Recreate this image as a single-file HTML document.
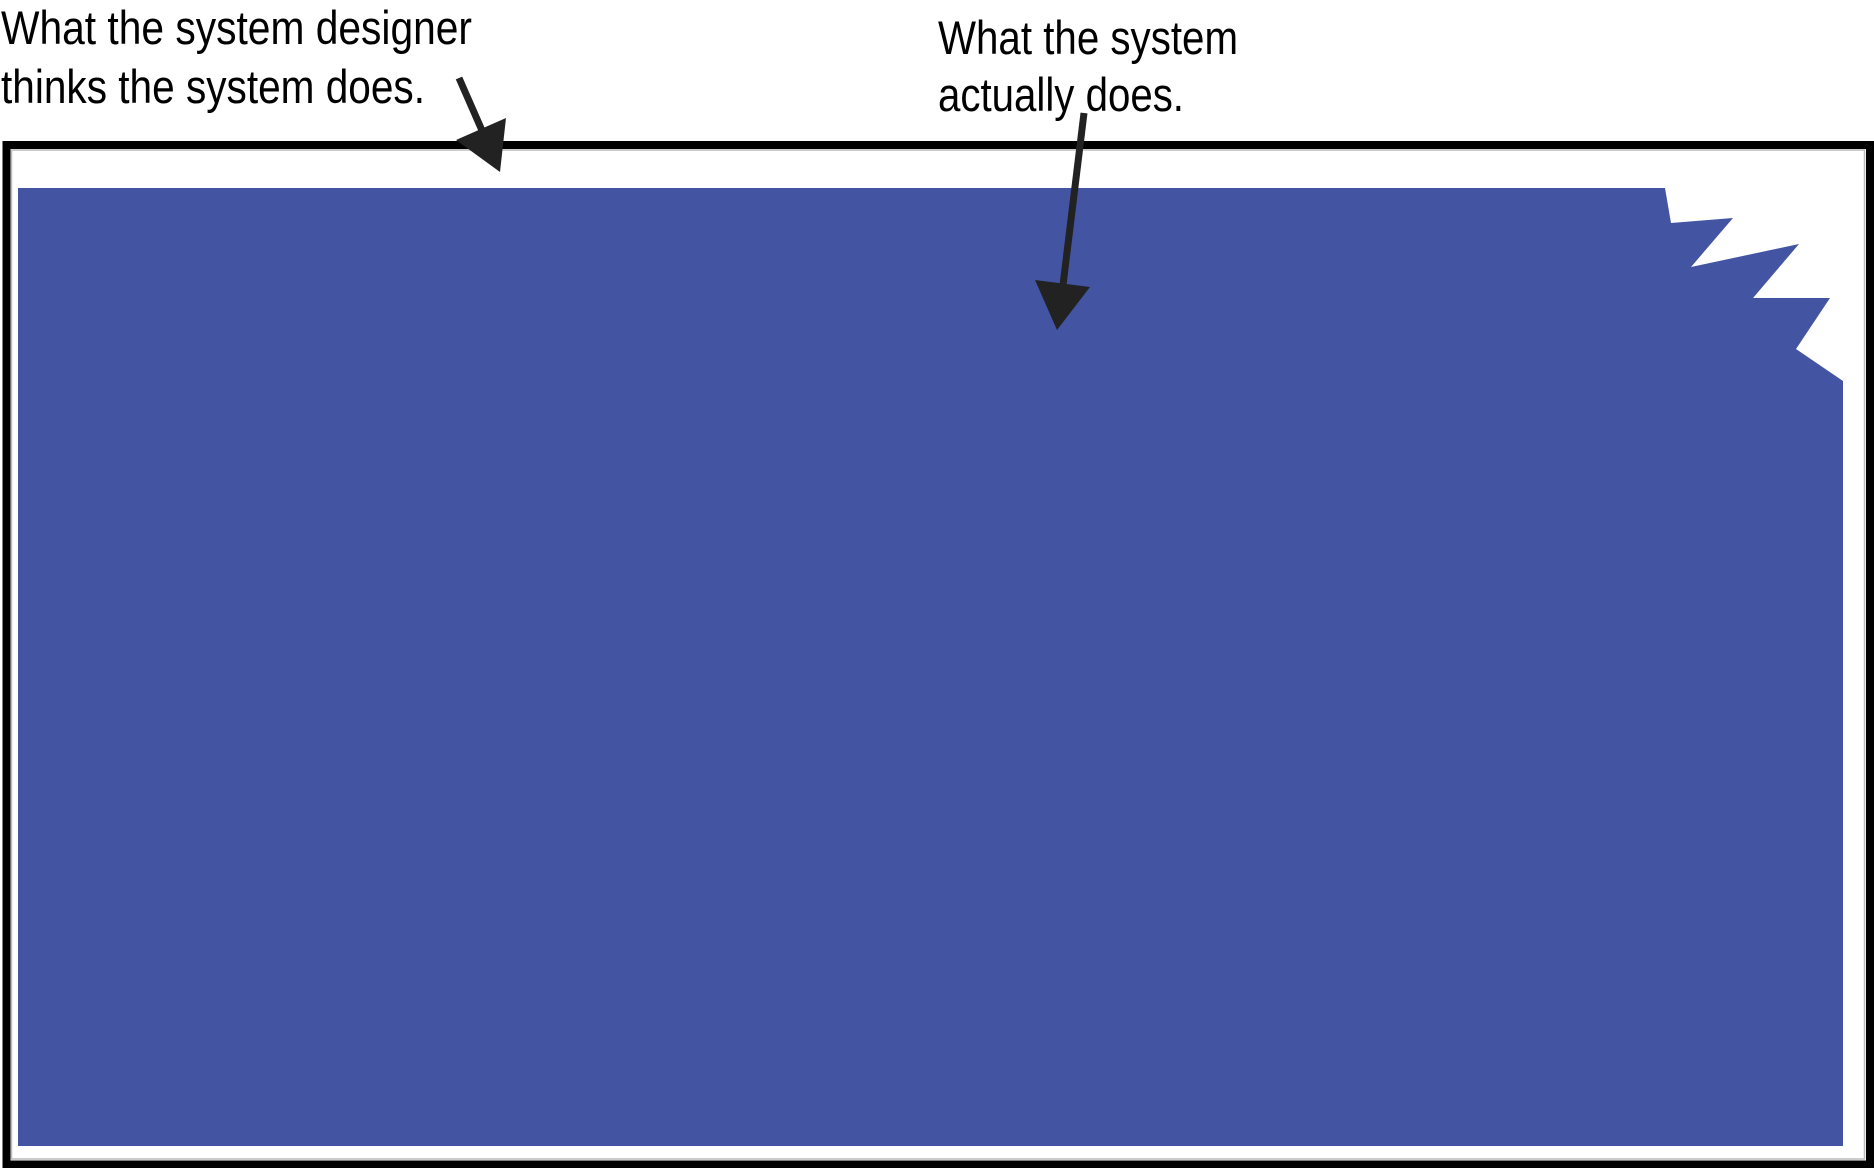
<!DOCTYPE html>
<html><head><meta charset="utf-8"><style>html,body{margin:0;padding:0;background:#fff;}svg{display:block}</style></head>
<body>
<svg width="1874" height="1168" viewBox="0 0 1874 1168" xmlns="http://www.w3.org/2000/svg">
<rect x="0" y="0" width="1874" height="1168" fill="#fff"/>
<rect x="6.5" y="145" width="1863.5" height="1019.5" fill="none" stroke="#000" stroke-width="8"/>
<rect x="11.5" y="150" width="1853" height="1009" fill="none" stroke="#bbb" stroke-width="1.5"/>
<polygon fill="#4354a3" points="18,188 1665,188 1671,223 1733,218 1691,267 1799,244 1753,298 1830,298 1796,349 1843,381 1843,1146 18,1146"/>
<line x1="459" y1="78" x2="484" y2="135" stroke="#222" stroke-width="7"/>
<polygon fill="#222" points="456,140 506,118 500,172"/>
<line x1="1084" y1="113" x2="1063" y2="285" stroke="#222" stroke-width="7"/>
<polygon fill="#222" points="1035,280 1090,287 1057,330"/>
<g font-family="Liberation Sans, sans-serif" font-size="47" fill="#000">
<text x="1" y="44" textLength="471" lengthAdjust="spacingAndGlyphs">What the system designer</text>
<text x="1" y="103" textLength="424" lengthAdjust="spacingAndGlyphs">thinks the system does.</text>
<text x="938" y="54" textLength="300" lengthAdjust="spacingAndGlyphs">What the system</text>
<text x="938" y="111" textLength="246" lengthAdjust="spacingAndGlyphs">actually does.</text>
</g>
</svg>
</body></html>
